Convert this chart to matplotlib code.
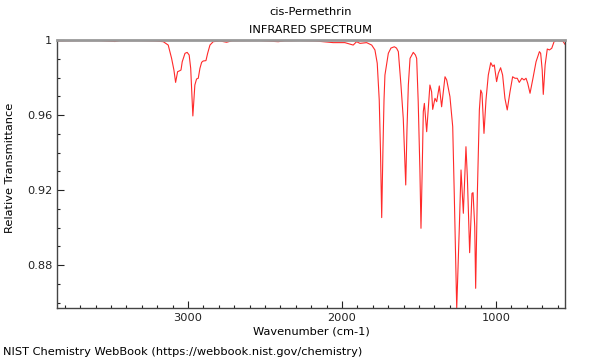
import matplotlib
matplotlib.use("Agg")
import matplotlib.pyplot as plt
from matplotlib.ticker import MultipleLocator, FixedLocator

title = "cis-Permethrin"
subtitle = "INFRARED SPECTRUM"
xlabel = "Wavenumber (cm-1)"
ylabel = "Relative Transmittance"
footer = "NIST Chemistry WebBook (https://webbook.nist.gov/chemistry)"

wavenumber = [3850, 3701, 3571, 3474, 3442, 3312, 3214, 3160, 3128, 3106, 3091, 3080,
              3067, 3056, 3045, 3037, 3019, 3005, 2992, 2982, 2968, 2955, 2944, 2933,
              2922, 2911, 2901, 2883, 2872, 2857, 2836, 2792, 2749, 2714, 2532, 2414,
              2370, 2327, 2273, 2175, 2057, 1981, 1927, 1905, 1883, 1840, 1807, 1786,
              1771, 1758, 1750, 1742, 1734, 1727, 1721, 1699, 1682, 1660, 1646, 1634,
              1617, 1602, 1586, 1578, 1569, 1558, 1537, 1523, 1515, 1505, 1494, 1487,
              1479, 1472, 1465, 1450, 1429, 1418, 1411, 1396, 1385, 1368, 1353, 1331,
              1320, 1299, 1281, 1271, 1262, 1255, 1247, 1238, 1227, 1212, 1195, 1186,
              1171, 1156, 1149, 1138, 1132, 1121, 1108, 1099, 1091, 1078, 1065, 1050,
              1034, 1021, 1011, 996, 985, 970, 957, 942, 927, 909, 892, 877, 862, 849,
              832, 818, 805, 794, 779, 760, 740, 718, 710, 700, 693, 681, 667, 653, 638,
              623, 606, 584, 567, 552]
transmittance = [0.9995, 0.9997, 0.9997, 0.9992, 0.9997, 0.9997, 0.9995, 0.9991, 0.9973,
                 0.9902, 0.984, 0.9774, 0.9831, 0.9835, 0.984, 0.9884, 0.9929, 0.9934,
                 0.992, 0.9849, 0.9595, 0.976, 0.9792, 0.9796, 0.9849, 0.9881, 0.9888,
                 0.989, 0.9929, 0.9973, 0.9991, 0.9995, 0.9988, 0.9996, 0.9997, 0.9991,
                 0.9996, 0.9996, 0.9997, 0.9995, 0.9986, 0.9986, 0.9973, 0.9991, 0.9982,
                 0.9986, 0.9973, 0.9947, 0.9876, 0.968, 0.9413, 0.9053, 0.9413, 0.968,
                 0.9813, 0.9929, 0.9957, 0.9964, 0.9957, 0.9938, 0.976, 0.9582, 0.9227,
                 0.952, 0.976, 0.9902, 0.9934, 0.992, 0.9902, 0.9671, 0.9307, 0.8996,
                 0.9307, 0.9618, 0.9662, 0.9511, 0.976, 0.9724, 0.963, 0.9689, 0.9671,
                 0.9755, 0.9644, 0.9804, 0.9787, 0.9698, 0.9538, 0.9182, 0.8827, 0.8568,
                 0.8773, 0.9004, 0.9307, 0.9076, 0.9431, 0.9271, 0.8866, 0.9182, 0.9186,
                 0.9004, 0.8676, 0.9182, 0.9627, 0.9733, 0.9716, 0.9502, 0.968, 0.9813,
                 0.9879, 0.9859, 0.9867, 0.9778, 0.9822, 0.9852, 0.9813, 0.9689, 0.9627,
                 0.9724, 0.9804, 0.9796, 0.9796, 0.9774, 0.9796, 0.9787, 0.9796, 0.9769,
                 0.9716, 0.9796, 0.9884, 0.9938, 0.9929, 0.984, 0.971, 0.9867, 0.9952,
                 0.9947, 0.9956, 0.9991, 0.9998, 0.9995, 0.9995, 0.9977]

x_major = [3000, 2000, 1000]
y_major = [0.88, 0.92, 0.96, 1.0]
y_labels = ["0.88", "0.92", "0.96", "1"]

fs = 8.2
fig = plt.figure(figsize=(6, 3.6), dpi=100)
ax = fig.add_axes([57/600, 1-308/360, (565-57)/600, (308-40)/360])
ax.plot(wavenumber, transmittance, color="#ff2a2a", lw=0.8)
ax.set_xlim(3850, 552)
ax.set_ylim(0.8571, 1.0)

ax.xaxis.set_major_locator(FixedLocator(x_major))
ax.xaxis.set_minor_locator(MultipleLocator(100))
ax.yaxis.set_major_locator(FixedLocator(y_major))
ax.set_yticklabels(y_labels)
ax.yaxis.set_minor_locator(MultipleLocator(0.01))
ax.tick_params(which="both", direction="in", top=False, right=False,
               labelsize=fs, colors="#222222", width=0.8)
ax.tick_params(which="major", length=5)
ax.tick_params(which="minor", length=2.5)
for s in ["left", "bottom", "right"]:
    ax.spines[s].set_color("#444444")
    ax.spines[s].set_linewidth(1.0)
ax.spines["top"].set_color("#999999")
ax.spines["top"].set_linewidth(2)

fig.text(0.518, 1-12/360, title, ha="center", va="center", fontsize=fs)
fig.text(0.518, 1-30/360, subtitle, ha="center", va="center", fontsize=fs)
fig.text(311/600, 1-332/360, xlabel, ha="center", va="center", fontsize=fs)
fig.text(10/600, 1-168/360, ylabel, ha="center", va="center", rotation=90, fontsize=fs)
fig.text(3/600, 1-352/360, footer, ha="left", va="center", fontsize=fs)

fig.savefig("out.png", dpi=100)
